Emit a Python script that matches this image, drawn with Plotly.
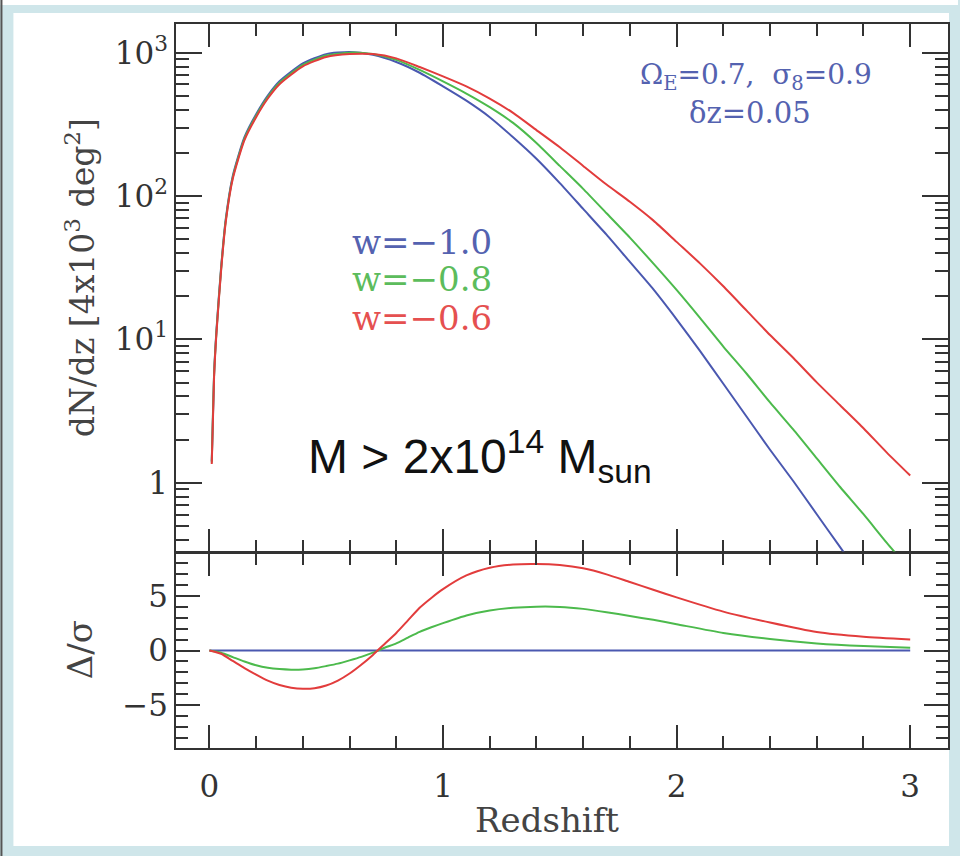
import numpy as np
import plotly.graph_objects as go

# ---- data -------------------------------------------------------------
# redshift grid for the counts panel
z_counts = [0.01, 0.02, 0.03, 0.05, 0.07, 0.1, 0.15, 0.2, 0.25, 0.3, 0.4, 0.5,
            0.6, 0.7, 0.8, 0.9, 1.0, 1.1, 1.2, 1.3, 1.4, 1.5, 1.6, 1.7, 1.8,
            1.9, 2.0, 2.1, 2.2, 2.3, 2.4, 2.5, 2.6, 2.7, 2.8, 2.9, 3.0]

# log10 of dN/dz [per 4x10^3 deg^2]
log_dndz_w10 = [0.15, 0.76, 1.06, 1.50, 1.84, 2.14, 2.41, 2.57, 2.70, 2.80, 2.925, 2.99,
                3.005, 2.985, 2.935, 2.86, 2.765, 2.665, 2.55, 2.41, 2.26, 2.09, 1.91, 1.73, 1.54,
                1.35, 1.14, 0.92, 0.69, 0.46, 0.23, 0.01, -0.22, -0.45, -0.68, -0.91, -1.14]
log_dndz_w08 = [0.14, 0.755, 1.05, 1.49, 1.83, 2.13, 2.40, 2.56, 2.69, 2.79, 2.915, 2.98,
                3.0, 2.99, 2.95, 2.88, 2.80, 2.715, 2.62, 2.51, 2.37, 2.21, 2.05, 1.88, 1.71,
                1.53, 1.345, 1.15, 0.95, 0.76, 0.56, 0.37, 0.17, -0.03, -0.22, -0.42, -0.61]
log_dndz_w06 = [0.13, 0.74, 1.04, 1.48, 1.82, 2.12, 2.39, 2.55, 2.68, 2.78, 2.905, 2.97,
                2.99, 2.99, 2.96, 2.90, 2.835, 2.765, 2.68, 2.58, 2.46, 2.34, 2.21, 2.08, 1.96,
                1.83, 1.68, 1.53, 1.37, 1.20, 1.03, 0.87, 0.70, 0.54, 0.38, 0.21, 0.05]

# redshift grid for the significance panel
z_sig = [0, 0.05, 0.1, 0.15, 0.2, 0.25, 0.3, 0.35, 0.4, 0.45, 0.5, 0.55, 0.6, 0.65,
         0.7, 0.75, 0.8, 0.85, 0.9, 0.95, 1.0, 1.1, 1.2, 1.3, 1.4, 1.5, 1.6, 1.7, 1.8,
         1.9, 2.0, 2.2, 2.4, 2.6, 2.8, 3.0]
sig_w10 = [0.0] * len(z_sig)
sig_w08 = [0, -0.2, -0.6, -1.0, -1.35, -1.58, -1.7, -1.75, -1.73, -1.62, -1.42, -1.2,
           -0.9, -0.58, -0.2, 0.25, 0.65, 1.18, 1.7, 2.12, 2.5, 3.2, 3.65, 3.9, 4.0, 3.98,
           3.8, 3.5, 3.15, 2.8, 2.4, 1.6, 1.05, 0.65, 0.4, 0.24]
sig_w06 = [0, -0.3, -0.95, -1.6, -2.2, -2.75, -3.15, -3.4, -3.5, -3.45, -3.2, -2.75,
           -2.1, -1.3, -0.4, 0.6, 1.6, 2.75, 3.9, 4.8, 5.6, 6.85, 7.55, 7.85, 7.9, 7.8,
           7.5, 6.95, 6.25, 5.55, 4.85, 3.55, 2.55, 1.68, 1.25, 1.0]

series_names = ["w=\u22121.0", "w=\u22120.8", "w=\u22120.6"]
log_tickvals = [1, 10, 100, 1000]
log_ticktext = ["1", "10<sup>1</sup>", "10<sup>2</sup>", "10<sup>3</sup>"]

# ---- style ------------------------------------------------------------
BLUE = "#4a58b0"
GREEN = "#4cba4c"
RED = "#e23c3c"
AXC = "#333333"
SERIF = "DejaVu Serif"
W, H = 960, 856
ML, MR, MT, MB = 176, 10, 24, 108
PW, PH = W - ML - MR, H - MT - MB
split = (748 - 553) / PH
LW = 1.5


def px(xp):
    return (xp - ML) / PW


def py(yp):
    return (H - MB - yp) / PH


fig = go.Figure()

colors = [BLUE, GREEN, RED]
for name, logs, c in zip(series_names, [log_dndz_w10, log_dndz_w08, log_dndz_w06], colors):
    fig.add_trace(go.Scatter(x=z_counts, y=10 ** np.array(logs), mode="lines",
                             line=dict(color=c, width=2, shape="spline", smoothing=0.6),
                             xaxis="x2", yaxis="y2", name=name, showlegend=False))

for name, vals, c in zip(series_names, [sig_w10, sig_w08, sig_w06], colors):
    fig.add_trace(go.Scatter(x=z_sig, y=vals, mode="lines",
                             line=dict(color=c, width=2, shape="spline", smoothing=0.6),
                             xaxis="x", yaxis="y", name=name, showlegend=False))

tickfont = dict(family=SERIF, size=31, color=AXC)
xr = [(ML - 209.5) / 234.2, (W - MR - 209.5) / 234.2]

common_x = dict(range=xr, dtick=1, tick0=0, ticks="inside", ticklen=23, tickwidth=LW,
                tickcolor=AXC, showline=True, linecolor=AXC, linewidth=LW,
                mirror="ticks", showgrid=False, zeroline=False,
                minor=dict(dtick=0.2, tick0=0, ticks="inside", ticklen=12,
                           tickwidth=LW, tickcolor=AXC, showgrid=False))

minor_log = [m * 10 ** k for k in range(-1, 4) for m in range(2, 10)]

fig.update_layout(
    width=W, height=H,
    margin=dict(l=ML, r=MR, t=MT, b=MB),
    paper_bgcolor="#cfe6ea",
    plot_bgcolor="rgba(0,0,0,0)",
    xaxis=dict(common_x, anchor="y", domain=[0, 1], tickfont=tickfont,
               ticklabelstandoff=10),
    xaxis2=dict(common_x, anchor="y2", matches="x", showticklabels=False),
    yaxis=dict(domain=[0, split], anchor="x", range=[-8.9, 8.9], dtick=5, tick0=0,
               ticks="inside", ticklen=24, tickwidth=LW, tickcolor=AXC,
               showline=True, linecolor=AXC, linewidth=LW, mirror="ticks",
               showgrid=False, zeroline=False, tickfont=tickfont,
               minor=dict(dtick=1, tick0=0, ticks="inside", ticklen=12,
                          tickwidth=LW, tickcolor=AXC, showgrid=False)),
    yaxis2=dict(domain=[split + LW / PH, 1], anchor="x2", type="log", range=[-0.48, 3.20],
                tickmode="array", tickvals=log_tickvals, ticktext=log_ticktext,
                ticks="inside", ticklen=26, tickwidth=LW, tickcolor=AXC,
                showline=True, linecolor=AXC, linewidth=LW, mirror="ticks",
                showgrid=False, zeroline=False, tickfont=tickfont,
                minor=dict(tickmode="array", tickvals=minor_log, ticks="inside",
                           ticklen=13, tickwidth=LW, tickcolor=AXC, showgrid=False)),
    shapes=[
        dict(type="rect", xref="paper", yref="paper", layer="below",
             x0=px(13), x1=px(951), y0=py(846), y1=py(13),
             fillcolor="white", line=dict(width=0)),
        dict(type="rect", xref="paper", yref="paper", layer="below",
             x0=px(0), x1=px(W), y0=py(5), y1=py(0),
             fillcolor="white", line=dict(width=0)),
        dict(type="rect", xref="paper", yref="paper", layer="below",
             x0=px(0), x1=px(2), y0=py(H), y1=py(0),
             fillcolor="#555555", line=dict(width=0)),
    ],
)

ann = [
    dict(text="dN/dz [4x10<sup>3</sup> deg<sup>2</sup>]", x=px(80), y=py(278),
         textangle=-90, font=dict(family=SERIF, size=33, color="#444444")),
    dict(text="\u0394/\u03c3", x=px(80), y=py(650), textangle=-90,
         font=dict(family=SERIF, size=34, color="#444444")),
    dict(text="Redshift", x=px(548), y=py(820),
         font=dict(family=SERIF, size=34, color="#444444")),
    dict(text="\u03a9<sub>E</sub>=0.7,  \u03c3<sub>8</sub>=0.9", x=px(758), y=py(76),
         font=dict(family=SERIF, size=28, color="#5462b0")),
    dict(text="\u03b4z=0.05", x=px(751), y=py(113),
         font=dict(family=SERIF, size=29, color="#5462b0")),
    dict(text=series_names[0], x=px(350), y=py(242), xanchor="left",
         font=dict(family=SERIF, size=34, color="#5462b0")),
    dict(text=series_names[1], x=px(350), y=py(279), xanchor="left",
         font=dict(family=SERIF, size=34, color="#5cbc5c")),
    dict(text=series_names[2], x=px(350), y=py(318), xanchor="left",
         font=dict(family=SERIF, size=34, color="#e55050")),
    dict(text="M > 2x10<sup>14</sup> M<sub>sun</sub>", x=px(306), y=py(456),
         xanchor="left",
         font=dict(family="Liberation Sans", size=48, color="#111111")),
]
for a in ann:
    a.setdefault("xanchor", "center")
    a.update(xref="paper", yref="paper", showarrow=False, yanchor="middle")
    fig.add_annotation(**a)

fig.write_html("out.html")
